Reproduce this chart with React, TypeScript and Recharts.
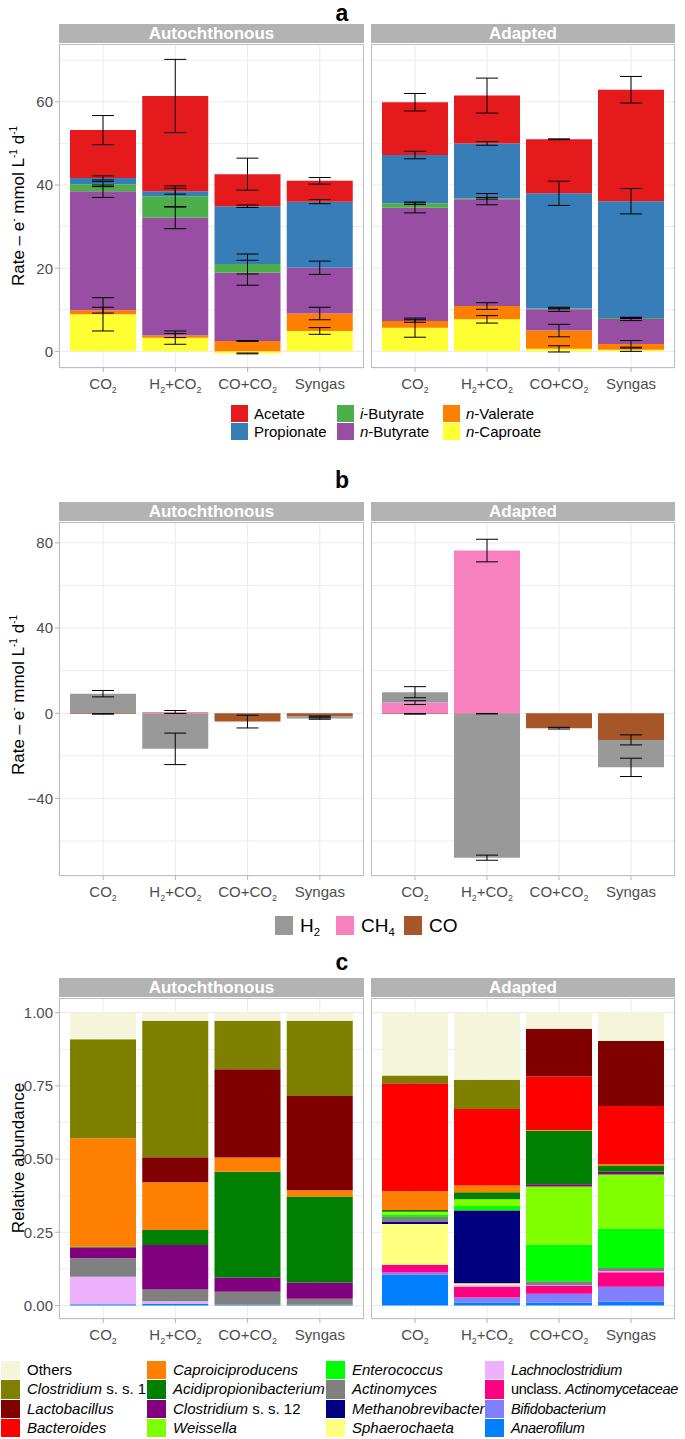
import React from "react";
import { BarChart, Bar, XAxis, YAxis, CartesianGrid, ErrorBar } from "recharts";

const FONT = '"Liberation Sans", Arial, Helvetica, sans-serif';
const TICK_COLOR = "#4D4D4D";

const conditions = ["CO2", "H2+CO2", "CO+CO2", "Syngas"];

// ---- panel a : carboxylates (legend order, top of stack first)
const acids = ["Acetate", "Propionate", "*i*-Butyrate", "*n*-Butyrate", "*n*-Valerate", "*n*-Caproate"];
const acidColors = ["#E41A1C", "#377EB8", "#4DAF4A", "#984EA3", "#FF7F00", "#FFFF33"];

// Autochthonous, values per condition
const autoAcetate = [11.5, 22.9, 7.7, 5.0];
const autoPropionate = [1.5, 1.2, 13.9, 15.9];
const autoIButyrate = [1.7, 5.2, 2.1, 0];
const autoNButyrate = [28.6, 28.3, 16.4, 11.0];
const autoValerate = [1.0, 0.5, 2.5, 4.2];
const autoCaproate = [8.9, 3.3, -0.5, 4.9];
const autoAcetateSd = [3.5, 8.8, 3.85, 0.8];
const autoPropionateSd = [0.5, 0.7, 0.3, 0.5];
const autoIButyrateSd = [0.6, 2.5, 2.4, 0];
const autoNButyrateSd = [1.5, 2.6, 3.0, 1.6];
const autoValerateSd = [0.7, 0.5, 0.1, 1.5];
const autoCaproateSd = [4.0, 1.6, 0.1, 0.8];

// Adapted
const adAcetate = [12.7, 11.5, 13.0, 26.8];
const adPropionate = [11.6, 13.2, 27.7, 28.1];
const adIButyrate = [1.1, 0.2, 0.2, 0.2];
const adNButyrate = [27.2, 25.7, 5.1, 6.0];
const adValerate = [1.6, 3.2, 4.4, 1.4];
const adCaproate = [5.7, 7.7, 0.6, 0.4];
const adAcetateSd = [2.1, 4.2, 0.1, 3.2];
const adPropionateSd = [0.9, 0.45, 2.9, 3.05];
const adIButyrateSd = [0.3, 0.2, 0.1, 0.1];
const adNButyrateSd = [1.2, 1.35, 0.5, 0.4];
const adValerateSd = [0.3, 0.8, 1.5, 0.8];
const adCaproateSd = [2.3, 0.9, 0.75, 0.4];

// ---- panel b : gases
const gases = ["H2", "CH4", "CO"];
const gasColors = ["#999999", "#F781BF", "#A65628"];

const autoH2 = [9.2, -16.7, 0, -1.0];
const autoCH4 = [0, 0.6, 0, 0];
const autoCO = [-0.3, 0, -3.9, -1.5];
const autoH2Sd = [1.5, 7.4, 0, 0.3];
const autoCH4Sd = [0, 0.7, 0, 0];
const autoCOSd = [0.1, 0, 3.0, 0.2];

const adH2 = [4.9, -67.6, 0, -12.9];
const adCH4 = [5.0, 76.4, 0, 0];
const adCO = [-0.3, -0.2, -7.0, -12.5];
const adH2Sd = [2.6, 1.2, 0, 4.3];
const adCH4Sd = [0.9, 5.3, 0, 0];
const adCOSd = [0.1, 0.1, 0.4, 2.35];

// ---- panel c : relative abundance (legend order, top of stack first)
const genera = [
  "Others", "*Clostridium* s. s. 1", "*Lactobacillus*", "*Bacteroides*",
  "*Caproiciproducens*", "*Acidipropionibacterium*", "*Clostridium* s. s. 12", "*Weissella*",
  "*Enterococcus*", "*Actinomyces*", "*Methanobrevibacter*", "*Sphaerochaeta*",
  "*Lachnoclostridium*", "unclass. *Actinomycetaceae*", "*Bifidobacterium*", "*Anaerofilum*",
];
const genusColors = [
  "#F5F5DC", "#808000", "#800000", "#FF0000",
  "#FF8000", "#008000", "#800080", "#80FF00",
  "#00FF00", "#808080", "#000080", "#FFFF80",
  "#EDB1FF", "#FF0080", "#8080FF", "#0080FF",
];

const autoCO2Abund = [0.091, 0.338, 0, 0, 0.370, 0.003, 0.037, 0, 0, 0.063, 0, 0, 0.094, 0, 0, 0.004];
const autoH2CO2Abund = [0.028, 0.466, 0.085, 0, 0.163, 0.051, 0.152, 0, 0, 0.040, 0, 0, 0.008, 0, 0.001, 0.006];
const autoCOCO2Abund = [0.028, 0.165, 0.302, 0, 0.048, 0.361, 0.049, 0, 0, 0.044, 0, 0, 0, 0, 0, 0.003];
const autoSyngasAbund = [0.028, 0.257, 0.321, 0, 0.022, 0.293, 0.056, 0, 0, 0.020, 0, 0, 0, 0, 0, 0.003];
const adCO2Abund = [0.215, 0.026, 0.002, 0.367, 0.064, 0.005, 0.002, 0.008, 0.009, 0.015, 0.009, 0.139, 0, 0.026, 0.008, 0.105];
const adH2CO2Abund = [0.229, 0.100, 0, 0.261, 0.023, 0.024, 0, 0.023, 0.014, 0.003, 0.247, 0.006, 0.006, 0.037, 0.017, 0.010];
const adCOCO2Abund = [0.057, 0, 0.163, 0.183, 0.002, 0.183, 0.008, 0.198, 0.125, 0.013, 0.001, 0.001, 0.001, 0.027, 0.030, 0.010];
const adSyngasAbund = [0.100, 0, 0.222, 0.198, 0.007, 0.019, 0.010, 0.185, 0.134, 0.011, 0, 0, 0.003, 0.050, 0.051, 0.013];

type Row = Record<string, number | string>;

function seriesRows(series: number[][], errs?: number[][]): Row[] {
  return conditions.map((cond, i) => {
    const row: Row = { cond };
    series.forEach((s, k) => {
      row["v" + k] = s[i];
      if (errs) row["e" + k] = errs[k][i];
    });
    return row;
  });
}

function abundRows(perCond: number[][]): Row[] {
  return conditions.map((cond, i) => {
    const row: Row = { cond };
    genera.forEach((_, k) => (row["v" + k] = perCond[i][k]));
    return row;
  });
}

const aAuto = seriesRows(
  [autoAcetate, autoPropionate, autoIButyrate, autoNButyrate, autoValerate, autoCaproate],
  [autoAcetateSd, autoPropionateSd, autoIButyrateSd, autoNButyrateSd, autoValerateSd, autoCaproateSd]
);
const aAd = seriesRows(
  [adAcetate, adPropionate, adIButyrate, adNButyrate, adValerate, adCaproate],
  [adAcetateSd, adPropionateSd, adIButyrateSd, adNButyrateSd, adValerateSd, adCaproateSd]
);
const bAuto = seriesRows([autoH2, autoCH4, autoCO], [autoH2Sd, autoCH4Sd, autoCOSd]);
const bAd = seriesRows([adH2, adCH4, adCO], [adH2Sd, adCH4Sd, adCOSd]);
const cAuto = abundRows([autoCO2Abund, autoH2CO2Abund, autoCOCO2Abund, autoSyngasAbund]);
const cAd = abundRows([adCO2Abund, adH2CO2Abund, adCOCO2Abund, adSyngasAbund]);

// text helpers
const rich = (s: string) =>
  s.split("*").map((p, i) => (i % 2 ? <i key={i}>{p}</i> : <span key={i}>{p}</span>));

const chem = (s: string) =>
  s.split(/(\d)/).map((p, i) =>
    i % 2 ? (
      <span key={i} style={{ fontSize: "0.6em", position: "relative", top: "0.35em" }}>{p}</span>
    ) : (
      <span key={i}>{p}</span>
    )
  );

const XTick = (props: any) => {
  const { x, y, payload } = props;
  const parts = String(payload.value).split(/(\d)/);
  let down = false;
  return (
    <text x={x} y={y + 15} textAnchor="middle" fontSize={15} fill={TICK_COLOR} fontFamily={FONT}>
      {parts.map((p, i) => {
        if (!p) return null;
        if (i % 2) {
          const dy = down ? undefined : 4;
          down = true;
          return (
            <tspan key={i} dy={dy} fontSize={9}>
              {p}
            </tspan>
          );
        }
        const dy = down ? -4 : undefined;
        down = false;
        return (
          <tspan key={i} dy={dy}>
            {p}
          </tspan>
        );
      })}
    </text>
  );
};

const makeYTick = (majors: number[], fmt: (v: number) => string) => (props: any) => {
  const { x, y, payload } = props;
  if (!majors.some((m) => Math.abs(m - payload.value) < 1e-9)) return <g />;
  return (
    <g>
      <line x1={x + 2} x2={x + 6} y1={y} y2={y} stroke="#B3B3B3" />
      <text x={x} y={y} dy="0.36em" textAnchor="end" fontSize={15} fill={TICK_COLOR} fontFamily={FONT}>
        {fmt(payload.value)}
      </text>
    </g>
  );
};

const LEFT = { x0: 59, w: 305 };
const RIGHT = { x0: 371, w: 304 };

type FacetProps = {
  pos: { x0: number; w: number };
  top: number;
  plotH: number;
  showY: boolean;
  data: Row[];
  colors: string[];
  errors: boolean;
  domain: [number, number];
  ticks: number[];
  majors: number[];
  fmt: (v: number) => string;
};

function Facet({ pos, top, plotH, showY, data, colors, errors, domain, ticks, majors, fmt }: FacetProps) {
  const order = colors.map((_, k) => k).reverse();
  const left = showY ? 0 : pos.x0;
  const width = showY ? pos.x0 + pos.w : pos.w;
  return (
    <div style={{ position: "absolute", left, top }}>
      <BarChart
        width={width}
        height={plotH + 30}
        data={data}
        margin={{ top: 0, right: 0, bottom: 0, left: 0 }}
        stackOffset="sign"
        barSize={66}
      >
        <CartesianGrid stroke="#EBEBEB" strokeWidth={1} />
        <XAxis
          dataKey="cond"
          type="category"
          interval={0}
          padding={{ left: 8, right: 8 }}
          height={30}
          axisLine={false}
          tickSize={4}
          tickLine={{ stroke: "#B3B3B3" }}
          tick={XTick}
        />
        <YAxis
          hide={!showY}
          width={pos.x0}
          type="number"
          domain={domain}
          allowDataOverflow
          ticks={ticks}
          interval={0}
          axisLine={false}
          tickLine={false}
          tickSize={4}
          tickMargin={2}
          tick={makeYTick(majors, fmt)}
        />
        {order.map((k) => (
          <Bar key={k} dataKey={"v" + k} stackId="s" fill={colors[k]} isAnimationActive={false}>
            {errors && <ErrorBar dataKey={"e" + k} width={11} stroke="#000000" strokeWidth={1} direction="y" />}
          </Bar>
        ))}
      </BarChart>
    </div>
  );
}

function Frame({ stripTop, plotTop, plotH }: { stripTop: number; plotTop: number; plotH: number }) {
  return (
    <>
      {[
        { pos: LEFT, label: "Autochthonous" },
        { pos: RIGHT, label: "Adapted" },
      ].map(({ pos, label }) => (
        <React.Fragment key={label}>
          <div
            style={{
              position: "absolute",
              left: pos.x0,
              top: stripTop,
              width: pos.w,
              height: plotTop - stripTop - 1,
              background: "#B3B3B3",
              color: "#FFFFFF",
              fontWeight: "bold",
              fontSize: 17,
              lineHeight: `${plotTop - stripTop - 1}px`,
              textAlign: "center",
            }}
          >
            {label}
          </div>
          <div
            style={{
              position: "absolute",
              left: pos.x0,
              top: plotTop,
              width: pos.w,
              height: plotH,
              border: "1px solid #BEBEBE",
              boxSizing: "border-box",
              pointerEvents: "none",
            }}
          />
        </React.Fragment>
      ))}
    </>
  );
}

const sup = (s: string) => (
  <span style={{ fontSize: 10, position: "relative", top: -7 }}>{s}</span>
);

function YTitle({ cy, children }: { cy: number; children: React.ReactNode }) {
  return (
    <div
      style={{
        position: "absolute",
        left: 18,
        top: cy,
        transform: "translate(-50%, -50%) rotate(-90deg)",
        whiteSpace: "nowrap",
        fontSize: 17,
        color: "#000",
        lineHeight: 1,
      }}
    >
      {children}
    </div>
  );
}

function PanelLetter({ letter, top }: { letter: string; top: number }) {
  return (
    <div
      style={{
        position: "absolute",
        left: 342,
        top,
        transform: "translateX(-50%)",
        fontSize: 23,
        fontWeight: "bold",
        lineHeight: 0.65,
      }}
    >
      {letter}
    </div>
  );
}

const rateTitle = (
  <>
    Rate – e{sup("-")} mmol L{sup("-1")} d{sup("-1")}
  </>
);

const PA = { strip: 24, top: 44, h: 324 };
const PB = { strip: 502, top: 522, h: 354 };
const PC = { strip: 978, top: 998, h: 321 };

export default function App() {
  const fmtInt = (v: number) => (v < 0 ? "\u2212" + Math.abs(v) : String(v));
  const fmt2 = (v: number) => v.toFixed(2);
  const aTicks = [0, 10, 20, 30, 40, 50, 60, 70];
  const bTicks = [-60, -40, -20, 0, 20, 40, 60, 80];
  const cTicks = [0, 0.125, 0.25, 0.375, 0.5, 0.625, 0.75, 0.875, 1];

  return (
    <div
      style={{
        position: "absolute",
        left: 0,
        top: 0,
        width: 685,
        height: 1439,
        background: "#FFFFFF",
        overflow: "hidden",
        fontFamily: FONT,
      }}
    >
      {/* ---------- a ---------- */}
      <PanelLetter letter="a" top={6} />
      <Facet pos={LEFT} top={PA.top} plotH={PA.h} showY data={aAuto} colors={acidColors} errors
        domain={[-4, 73.9]} ticks={aTicks} majors={[0, 20, 40, 60]} fmt={fmtInt} />
      <Facet pos={RIGHT} top={PA.top} plotH={PA.h} showY={false} data={aAd} colors={acidColors} errors
        domain={[-4, 73.9]} ticks={aTicks} majors={[0, 20, 40, 60]} fmt={fmtInt} />
      <Frame stripTop={PA.strip} plotTop={PA.top} plotH={PA.h} />
      <YTitle cy={206}>{rateTitle}</YTitle>
      {acids.map((name, k) => {
        const col = Math.floor(k / 2);
        const row = k % 2;
        const kx = [231, 337, 443][col];
        const ky = 405 + row * 18;
        return (
          <React.Fragment key={name}>
            <div style={{ position: "absolute", left: kx, top: ky, width: 17, height: 17, background: acidColors[k] }} />
            <div style={{ position: "absolute", left: kx + 23, top: ky, height: 17, lineHeight: "17px", fontSize: 15, whiteSpace: "nowrap" }}>
              {rich(name)}
            </div>
          </React.Fragment>
        );
      })}

      {/* ---------- b ---------- */}
      <PanelLetter letter="b" top={473} />
      <Facet pos={LEFT} top={PB.top} plotH={PB.h} showY data={bAuto} colors={gasColors} errors
        domain={[-76.4, 89.8]} ticks={bTicks} majors={[-40, 0, 40, 80]} fmt={fmtInt} />
      <Facet pos={RIGHT} top={PB.top} plotH={PB.h} showY={false} data={bAd} colors={gasColors} errors
        domain={[-76.4, 89.8]} ticks={bTicks} majors={[-40, 0, 40, 80]} fmt={fmtInt} />
      <Frame stripTop={PB.strip} plotTop={PB.top} plotH={PB.h} />
      <YTitle cy={695}>{rateTitle}</YTitle>
      {gases.map((g, k) => {
        const kx = [275, 336, 404][k];
        return (
          <React.Fragment key={g}>
            <div style={{ position: "absolute", left: kx, top: 916, width: 18, height: 19, background: gasColors[k] }} />
            <div style={{ position: "absolute", left: kx + 25, top: 916, height: 19, lineHeight: "19px", fontSize: 19, whiteSpace: "nowrap" }}>
              {chem(g)}
            </div>
          </React.Fragment>
        );
      })}

      {/* ---------- c ---------- */}
      <PanelLetter letter="c" top={955} />
      <Facet pos={LEFT} top={PC.top} plotH={PC.h} showY data={cAuto} colors={genusColors} errors={false}
        domain={[-0.046, 1.05]} ticks={cTicks} majors={[0, 0.25, 0.5, 0.75, 1]} fmt={fmt2} />
      <Facet pos={RIGHT} top={PC.top} plotH={PC.h} showY={false} data={cAd} colors={genusColors} errors={false}
        domain={[-0.046, 1.05]} ticks={cTicks} majors={[0, 0.25, 0.5, 0.75, 1]} fmt={fmt2} />
      <Frame stripTop={PC.strip} plotTop={PC.top} plotH={PC.h} />
      <YTitle cy={1158}>Relative abundance</YTitle>
      {genera.map((name, k) => {
        const col = Math.floor(k / 4);
        const row = k % 4;
        const kx = [1, 147, 326, 485][col];
        const ky = 1361 + row * 19.3;
        const last = col === 3;
        return (
          <React.Fragment key={name}>
            <div style={{ position: "absolute", left: kx, top: ky, width: 19, height: 18.3, background: genusColors[k] }} />
            <div
              style={{
                position: "absolute",
                left: kx + 26,
                top: ky,
                height: 18.3,
                lineHeight: "18.3px",
                fontSize: last ? 14.5 : 15,
                letterSpacing: last ? -0.35 : 0,
                whiteSpace: "nowrap",
              }}
            >
              {rich(name)}
            </div>
          </React.Fragment>
        );
      })}
    </div>
  );
}
